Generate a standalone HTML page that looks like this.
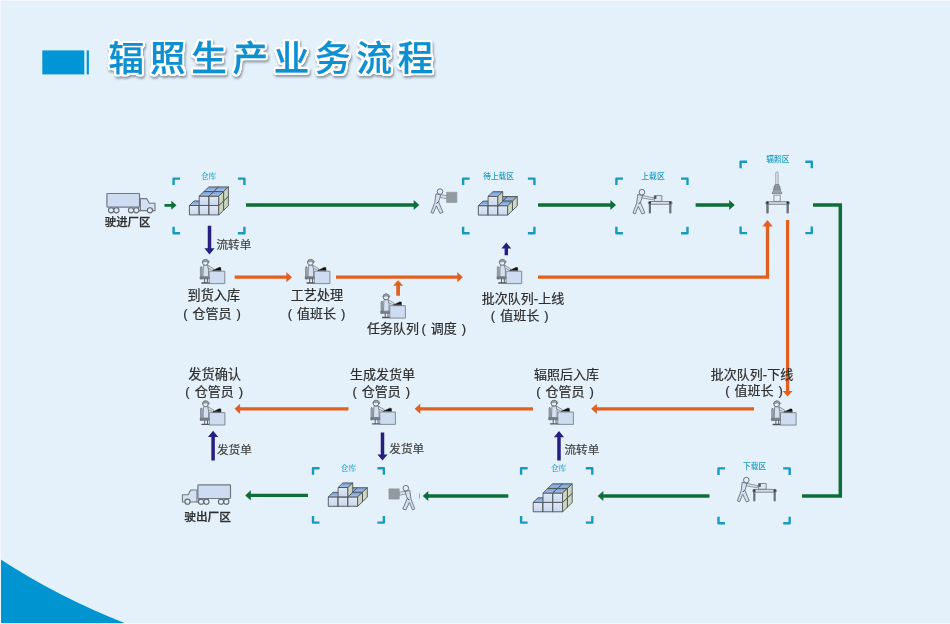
<!DOCTYPE html>
<html lang="zh-CN"><head><meta charset="utf-8"><title>辐照生产业务流程</title>
<style>
html,body{margin:0;padding:0;background:#e4f0fa;}
body{width:950px;height:624px;overflow:hidden;position:relative;}
svg{display:block;position:absolute;left:0;top:0;}
.t{font-family:"Liberation Sans","Noto Sans CJK SC",sans-serif;word-spacing:1.4px;}
.s{font-family:"Liberation Serif","Noto Serif CJK SC",serif;}
.title{font-family:"Liberation Sans","Noto Sans CJK SC",sans-serif;font-weight:500;letter-spacing:5.8px;stroke-linejoin:round;}
</style></head><body>
<svg width="950" height="624" viewBox="0 0 950 624">
<defs>
<linearGradient id="gf" x1="0" y1="0" x2="0" y2="1"><stop offset="0" stop-color="#dfe8f5"/><stop offset="1" stop-color="#c9d8ee"/></linearGradient>
<linearGradient id="gt" x1="0" y1="0" x2="0" y2="1"><stop offset="0" stop-color="#6f9bd6"/><stop offset="1" stop-color="#a9c6ea"/></linearGradient>
<linearGradient id="gs" x1="0" y1="0" x2="1" y2="0"><stop offset="0" stop-color="#d6dfc9"/><stop offset="1" stop-color="#c3d0b3"/></linearGradient>
<filter id="soft" filterUnits="userSpaceOnUse" x="0" y="0" width="950" height="624" color-interpolation-filters="sRGB"><feGaussianBlur stdDeviation="0.38"/></filter>
<filter id="ol" x="-5%" y="-25%" width="110%" height="160%" color-interpolation-filters="sRGB">
<feMorphology in="SourceAlpha" operator="dilate" radius="2.3" result="d"/>
<feGaussianBlur in="d" stdDeviation="0.9" result="b"/>
<feComponentTransfer in="b" result="o"><feFuncA type="linear" slope="6" intercept="-2.2"/></feComponentTransfer>
<feFlood flood-color="#ffffff" result="w"/><feComposite in="w" in2="o" operator="in" result="outline"/>
<feGaussianBlur in="o" stdDeviation="0.8" result="sb"/><feOffset in="sb" dx="1.4" dy="1.8" result="so"/>
<feFlood flood-color="#55636f" flood-opacity="0.6" result="sc"/><feComposite in="sc" in2="so" operator="in" result="shadow"/>
<feMerge><feMergeNode in="shadow"/><feMergeNode in="outline"/><feMergeNode in="SourceGraphic"/></feMerge>
</filter>

<symbol id="desk" overflow="visible">
<g stroke-linejoin="round" stroke-linecap="round">
<rect x="0.5" y="8.3" width="1.7" height="12" rx="0.6" fill="#a3aab2" stroke="#666d75" stroke-width="0.6"/>
<path d="M0.6,18.2H9.6V20.2H0.6Z" fill="#7c838b" stroke="#5c636b" stroke-width="0.6"/>
<path d="M4.7,20.2V23.8M7.5,20.2V23.8" stroke="#5c636b" stroke-width="1" fill="none"/>
<path d="M2,24.3H10" stroke="#4d545c" stroke-width="1.3" fill="none"/>
<path d="M3.4,7.2Q3.4,6.5 4.2,6.5H7.6Q8.6,6.5 8.6,7.4V18H3.4Z" fill="#d3e0f1" stroke="#6a7179" stroke-width="0.8"/>
<path d="M8.2,6.8L13.9,10.2L13.3,12L8.4,9.6Z" fill="#dbe5f3" stroke="#6a7179" stroke-width="0.7"/>
<circle cx="5.5" cy="3.7" r="2.9" fill="#e6eef8" stroke="#5c636b" stroke-width="0.9"/>
<path d="M2.7,3.2Q3,0.6 5.6,0.6Q8.4,0.7 9.6,3.2L9,3.6Q7,2.2 2.7,3.2Z" fill="#9aa1a9" stroke="#5c636b" stroke-width="0.5"/>
<rect x="9.7" y="12.5" width="15.2" height="12.4" fill="#cddcf0" stroke="#7a8189" stroke-width="0.9"/>
<path d="M13.4,11.6L19.2,8.7L20.8,8.9L21,11.6Z" fill="#111" stroke="#111" stroke-width="0.5"/>
</g></symbol>
<symbol id="truck" overflow="visible">
<g stroke-linejoin="round">
<path d="M40.4,13.6H46.7L49.3,18.3H55V25.6H40.4Z" fill="#d3e0f1" stroke="#717981" stroke-width="1.1"/>
<rect x="6.9" y="8.5" width="32.6" height="13.6" rx="0.8" fill="#cddcf0" stroke="#717981" stroke-width="1.2"/>
<path d="M38.5,22.1V25.6H41" fill="none" stroke="#717981" stroke-width="1.1"/>
<g fill="#e3ecf7" stroke="#626a72" stroke-width="1.1">
<circle cx="11.1" cy="25.3" r="2.6"/><circle cx="16.4" cy="25.3" r="2.6"/>
<circle cx="31" cy="25.3" r="2.6"/><circle cx="36.3" cy="25.3" r="2.6"/>
<circle cx="49.9" cy="25.3" r="2.6"/></g>
</g></symbol>
<symbol id="carrier" overflow="visible"><g stroke-linejoin="round">
<path d="M10.9,9.8L15.8,10.9L13.6,18L18,28.3L15,29.4L11.4,21.8L8.2,29.4L6,28.3L9.8,18.5Z" fill="#d3e0f1" stroke="#5c636b" stroke-width="0.8"/><path d="M11.6,19.5L13.4,17.6" stroke="#3c4248" stroke-width="1" fill="none"/>
<path d="M15.6,10.7L21.8,11.7V14.7L15.2,13.4Z" fill="#dbe5f3" stroke="#6a7179" stroke-width="0.7"/>
<circle cx="15" cy="7.6" r="2.8" fill="#e3ecf7" stroke="#5c636b" stroke-width="0.9"/>
<rect x="21.5" y="8.2" width="10.4" height="10.3" fill="#9299a1" stroke="#878e96" stroke-width="0.5"/>
</g></symbol>
<symbol id="tableman" overflow="visible"><g stroke-linejoin="round">
<g transform="translate(-1.1,0.6)"><path d="M10.9,9.8L15.8,10.9L13.6,18L18,28.3L15,29.4L11.4,21.8L8.2,29.4L6,28.3L9.8,18.5Z" fill="#d3e0f1" stroke="#5c636b" stroke-width="0.8"/><path d="M11.6,19.5L13.4,17.6" stroke="#3c4248" stroke-width="1" fill="none"/>
<path d="M15.6,10.9L26.5,13.2L26,15.2L15.2,13.4Z" fill="#dbe5f3" stroke="#6a7179" stroke-width="0.7"/>
<circle cx="15" cy="7.6" r="2.8" fill="#e3ecf7" stroke="#5c636b" stroke-width="0.9"/></g>
<rect x="26.2" y="11.6" width="7.6" height="5.8" fill="#dde7f4" stroke="#6a7179" stroke-width="0.8"/>
<rect x="26.2" y="11.9" width="2.2" height="3" fill="#4a5058"/>
<rect x="20.4" y="17.5" width="23.6" height="2.8" rx="1" fill="#d4dce5" stroke="#6a7179" stroke-width="0.8"/>
<rect x="20.8" y="18" width="2.2" height="11.5" rx="0.8" fill="#6a7179"/>
<rect x="41.2" y="18" width="2.2" height="11.5" rx="0.8" fill="#6a7179"/>
<rect x="20.8" y="17.6" width="2.2" height="2" rx="0.8" fill="#2a2e33"/>
<rect x="41.2" y="17.6" width="2.2" height="2" rx="0.8" fill="#2a2e33"/>
</g></symbol>
<symbol id="machine" overflow="visible"><g stroke-linejoin="round">
<rect x="55.8" y="27" width="2.3" height="13" rx="1" fill="#e8eef5" stroke="#7a8189" stroke-width="0.7"/>
<path d="M55,39.6H58.9L60.4,45.6L62,48.6H52L53.5,45.6Z" fill="#9aa1a9" stroke="#6a7179" stroke-width="0.7"/>
<path d="M53.2,42H60.8M52.8,44.2H61.2" stroke="#6a7179" stroke-width="0.6"/>
<rect x="53.9" y="50.2" width="6.4" height="6.2" fill="#e8eef5" stroke="#7a8189" stroke-width="0.8"/>
<rect x="45.8" y="56.7" width="23.6" height="2.6" rx="0.8" fill="#d4dce5" stroke="#6a7179" stroke-width="0.8"/>
<rect x="46.3" y="57" width="2.4" height="11.6" rx="0.8" fill="#6a7179"/>
<rect x="66.5" y="57" width="2.4" height="11.6" rx="0.8" fill="#6a7179"/>
<rect x="46.4" y="56.6" width="2.2" height="2.2" rx="0.8" fill="#2a2e33"/>
<rect x="66.6" y="56.6" width="2.2" height="2.2" rx="0.8" fill="#2a2e33"/>
</g></symbol>
</defs>
<rect width="950" height="624" fill="#e4f0fa"/>
<path d="M0,559Q58,597 127,624H0Z" fill="#0095d0"/>
<rect x="0" y="623" width="950" height="1" fill="#f6fafd"/>
<rect x="0" y="0" width="950" height="1" fill="#f1f7fc"/>
<rect x="0" y="0" width="1" height="624" fill="#f1f7fc"/>
<g filter="url(#soft)">
<rect x="42.3" y="50.4" width="42" height="24" fill="#0095d4"/>
<rect x="86.7" y="50.4" width="2.2" height="24" fill="#0095d4"/>
<text x="108.6" y="71.3" font-size="35.5" fill="#0d90d2" stroke="#0d90d2" stroke-width="0.25" class="title" filter="url(#ol)">辐照生产业务流程</text>
<use href="#truck" x="100" y="185"/>
<text x="127.6" y="226.2" font-size="11.4" fill="#2e2e2e" text-anchor="middle" class="t" font-weight="500" stroke="#2e2e2e" stroke-width="0.25">驶进厂区</text>
<path d="M164.5,203.9H171.3V200.8L176.5,205.3L171.3,209.8V206.70000000000002H164.5Z" fill="#0f6e38"/>
<path d="M180.1,178.6H173.6V185.1M237.9,178.6H244.4V185.1M180.1,233.20000000000002H173.6V226.70000000000002M237.9,233.20000000000002H244.4V226.70000000000002" fill="none" stroke="#189abf" stroke-width="2.4" stroke-linejoin="round"/>
<text x="208.6" y="178.8" font-size="7.6" fill="#189abf" text-anchor="middle" class="s"  font-weight="500">仓库</text>
<g stroke="#4d5258" stroke-width="0.9" stroke-linejoin="round"><rect x="204.00" y="200.90" width="9.8" height="9.4" fill="url(#gf)"/><path d="M204.00,200.90l4.8,-4.6h9.8l-4.8,4.6z" fill="url(#gt)"/><path d="M213.80,200.90l4.8,-4.6v9.4l-4.8,4.6z" fill="url(#gs)"/><rect x="213.80" y="200.90" width="9.8" height="9.4" fill="url(#gf)"/><path d="M213.80,200.90l4.8,-4.6h9.8l-4.8,4.6z" fill="url(#gt)"/><path d="M223.60,200.90l4.8,-4.6v9.4l-4.8,4.6z" fill="url(#gs)"/><rect x="204.00" y="191.50" width="9.8" height="9.4" fill="url(#gf)"/><path d="M204.00,191.50l4.8,-4.6h9.8l-4.8,4.6z" fill="url(#gt)"/><path d="M213.80,191.50l4.8,-4.6v9.4l-4.8,4.6z" fill="url(#gs)"/><rect x="213.80" y="191.50" width="9.8" height="9.4" fill="url(#gf)"/><path d="M213.80,191.50l4.8,-4.6h9.8l-4.8,4.6z" fill="url(#gt)"/><path d="M223.60,191.50l4.8,-4.6v9.4l-4.8,4.6z" fill="url(#gs)"/><rect x="189.40" y="205.50" width="9.8" height="9.4" fill="url(#gf)"/><path d="M189.40,205.50l4.8,-4.6h9.8l-4.8,4.6z" fill="url(#gt)"/><path d="M199.20,205.50l4.8,-4.6v9.4l-4.8,4.6z" fill="url(#gs)"/><rect x="199.20" y="205.50" width="9.8" height="9.4" fill="url(#gf)"/><path d="M199.20,205.50l4.8,-4.6h9.8l-4.8,4.6z" fill="url(#gt)"/><path d="M209.00,205.50l4.8,-4.6v9.4l-4.8,4.6z" fill="url(#gs)"/><rect x="209.00" y="205.50" width="9.8" height="9.4" fill="url(#gf)"/><path d="M209.00,205.50l4.8,-4.6h9.8l-4.8,4.6z" fill="url(#gt)"/><path d="M218.80,205.50l4.8,-4.6v9.4l-4.8,4.6z" fill="url(#gs)"/><rect x="199.20" y="196.10" width="9.8" height="9.4" fill="url(#gf)"/><path d="M199.20,196.10l4.8,-4.6h9.8l-4.8,4.6z" fill="url(#gt)"/><path d="M209.00,196.10l4.8,-4.6v9.4l-4.8,4.6z" fill="url(#gs)"/><rect x="209.00" y="196.10" width="9.8" height="9.4" fill="url(#gf)"/><path d="M209.00,196.10l4.8,-4.6h9.8l-4.8,4.6z" fill="url(#gt)"/><path d="M218.80,196.10l4.8,-4.6v9.4l-4.8,4.6z" fill="url(#gs)"/></g>
<path d="M246,203.35H413.7V199.9L419.3,205L413.7,210.1V206.65H246Z" fill="#0f6e38"/>
<use href="#carrier" x="425" y="184"/>
<path d="M469.59999999999997,178.6H463.09999999999997V185.1M527.9,178.6H534.4V185.1M469.59999999999997,233.20000000000002H463.09999999999997V226.70000000000002M527.9,233.20000000000002H534.4V226.70000000000002" fill="none" stroke="#189abf" stroke-width="2.4" stroke-linejoin="round"/>
<text x="498.6" y="178.8" font-size="7.7" fill="#189abf" text-anchor="middle" class="t"  font-weight="500">待上载区</text>
<g stroke="#4d5258" stroke-width="0.9" stroke-linejoin="round"><rect x="492.90" y="201.10" width="9.8" height="9.4" fill="url(#gf)"/><path d="M492.90,201.10l4.8,-4.6h9.8l-4.8,4.6z" fill="url(#gt)"/><path d="M502.70,201.10l4.8,-4.6v9.4l-4.8,4.6z" fill="url(#gs)"/><rect x="502.70" y="201.10" width="9.8" height="9.4" fill="url(#gf)"/><path d="M502.70,201.10l4.8,-4.6h9.8l-4.8,4.6z" fill="url(#gt)"/><path d="M512.50,201.10l4.8,-4.6v9.4l-4.8,4.6z" fill="url(#gs)"/><rect x="478.30" y="205.70" width="9.8" height="9.4" fill="url(#gf)"/><path d="M478.30,205.70l4.8,-4.6h9.8l-4.8,4.6z" fill="url(#gt)"/><path d="M488.10,205.70l4.8,-4.6v9.4l-4.8,4.6z" fill="url(#gs)"/><rect x="488.10" y="205.70" width="9.8" height="9.4" fill="url(#gf)"/><path d="M488.10,205.70l4.8,-4.6h9.8l-4.8,4.6z" fill="url(#gt)"/><path d="M497.90,205.70l4.8,-4.6v9.4l-4.8,4.6z" fill="url(#gs)"/><rect x="497.90" y="205.70" width="9.8" height="9.4" fill="url(#gf)"/><path d="M497.90,205.70l4.8,-4.6h9.8l-4.8,4.6z" fill="url(#gt)"/><path d="M507.70,205.70l4.8,-4.6v9.4l-4.8,4.6z" fill="url(#gs)"/><rect x="488.10" y="196.30" width="9.8" height="9.4" fill="url(#gf)"/><path d="M488.10,196.30l4.8,-4.6h9.8l-4.8,4.6z" fill="url(#gt)"/><path d="M497.90,196.30l4.8,-4.6v9.4l-4.8,4.6z" fill="url(#gs)"/></g>
<path d="M538,203.35H610.4V199.9L616,205L610.4,210.1V206.65H538Z" fill="#0f6e38"/>
<path d="M622.9000000000001,178.6H616.4000000000001V185.1M681.0,178.6H687.5V185.1M622.9000000000001,233.20000000000002H616.4000000000001V226.70000000000002M681.0,233.20000000000002H687.5V226.70000000000002" fill="none" stroke="#189abf" stroke-width="2.4" stroke-linejoin="round"/>
<text x="653" y="178.8" font-size="7.8" fill="#189abf" text-anchor="middle" class="t"  font-weight="500">上载区</text>
<use href="#tableman" x="628" y="184"/>
<path d="M695.6,203.35H729.1999999999999V199.9L734.8,205L729.1999999999999,210.1V206.65H695.6Z" fill="#0f6e38"/>
<path d="M747.1,161.79999999999998H740.6V168.29999999999998M805.3,161.79999999999998H811.8V168.29999999999998M747.1,233.10000000000002H740.6V226.60000000000002M805.3,233.10000000000002H811.8V226.60000000000002" fill="none" stroke="#189abf" stroke-width="2.4" stroke-linejoin="round"/>
<text x="777.8" y="162.2" font-size="7.7" fill="#189abf" text-anchor="middle" class="t"  font-weight="500">辐照区</text>
<use href="#machine" x="720" y="145"/>
<path d="M813,205H840.3V496H802" fill="none" stroke="#0f6e38" stroke-width="3.5"/>
<path d="M207.75,225.8V248.3H204.4L209.5,254.5L214.6,248.3H211.25V225.8Z" fill="#261f80"/>
<text x="216.5" y="249" font-size="11.6" fill="#444" text-anchor="start" class="t"  stroke="#444" stroke-width="0.22">流转单</text>
<use href="#desk" x="199.9" y="258.7"/>
<text x="213.8" y="300.1" font-size="13.1" fill="#2e2e2e" text-anchor="middle" class="t"  stroke="#2e2e2e" stroke-width="0.22">到货入库</text>
<text x="212" y="317.9" font-size="13" fill="#2e2e2e" text-anchor="middle" class="t"  stroke="#2e2e2e" stroke-width="0.22">( 仓管员 )</text>
<path d="M234.7,275.55H286.4V272.09999999999997L292,277.2L286.4,282.3V278.84999999999997H234.7Z" fill="#e2601f"/>
<use href="#desk" x="305" y="258.7"/>
<text x="316.9" y="300.1" font-size="13.1" fill="#2e2e2e" text-anchor="middle" class="t"  stroke="#2e2e2e" stroke-width="0.22">工艺处理</text>
<text x="316.5" y="317.9" font-size="13" fill="#2e2e2e" text-anchor="middle" class="t"  stroke="#2e2e2e" stroke-width="0.22">( 值班长 )</text>
<path d="M336,275.55H457.29999999999995V272.09999999999997L462.9,277.2L457.29999999999995,282.3V278.84999999999997H336Z" fill="#e2601f"/>
<path d="M396.25,295.8V285.8H393.1L398.1,280.2L403.1,285.8H399.95000000000005V295.8Z" fill="#e2601f"/>
<use href="#desk" x="380.5" y="293.2"/>
<text x="416.6" y="332.5" font-size="13" fill="#2e2e2e" text-anchor="middle" class="t"  stroke="#2e2e2e" stroke-width="0.22">任务队列 <tspan dx="-2.6">( 调度 )</tspan></text>
<path d="M504.6,255.2V248.4H501.40000000000003L506.3,242.4L511.2,248.4H508.0V255.2Z" fill="#261f80"/>
<use href="#desk" x="496.8" y="258.7"/>
<text x="523" y="302.7" font-size="13" fill="#2e2e2e" text-anchor="middle" class="t"  stroke="#2e2e2e" stroke-width="0.22">批次队列-上线</text>
<text x="519.7" y="320.2" font-size="13" fill="#2e2e2e" text-anchor="middle" class="t"  stroke="#2e2e2e" stroke-width="0.22">( 值班长 )</text>
<path d="M538,277.2H767.5V226" fill="none" stroke="#e2601f" stroke-width="3.3"/>
<path d="M762.3,226.5L767.5,220L772.7,226.5Z" fill="#e2601f"/>
<path d="M785.95,220V391.0H782.7L787.6,396.5L792.5,391.0H789.25V220Z" fill="#e2601f"/>
<text x="752" y="378.5" font-size="13" fill="#2e2e2e" text-anchor="middle" class="t"  stroke="#2e2e2e" stroke-width="0.22">批次队列-下线</text>
<text x="754" y="395.2" font-size="13" fill="#2e2e2e" text-anchor="middle" class="t"  stroke="#2e2e2e" stroke-width="0.22">( 值班长 )</text>
<use href="#desk" x="771.2" y="400.2"/>
<path d="M754,407.15000000000003H596.8000000000001V403.7L591.2,408.8L596.8000000000001,413.90000000000003V410.45H754Z" fill="#e2601f"/>
<text x="566.5" y="378.5" font-size="13" fill="#2e2e2e" text-anchor="middle" class="t"  stroke="#2e2e2e" stroke-width="0.22">辐照后入库</text>
<text x="565" y="395.8" font-size="13" fill="#2e2e2e" text-anchor="middle" class="t"  stroke="#2e2e2e" stroke-width="0.22">( 仓管员 )</text>
<use href="#desk" x="548.5" y="399.5"/>
<path d="M533,407.15000000000003H420.3V403.7L414.7,408.8L420.3,413.90000000000003V410.45H533Z" fill="#e2601f"/>
<text x="382.5" y="378.5" font-size="13" fill="#2e2e2e" text-anchor="middle" class="t"  stroke="#2e2e2e" stroke-width="0.22">生成发货单</text>
<text x="381.3" y="395.8" font-size="13" fill="#2e2e2e" text-anchor="middle" class="t"  stroke="#2e2e2e" stroke-width="0.22">( 仓管员 )</text>
<use href="#desk" x="370.5" y="399.5"/>
<path d="M348.5,407.15000000000003H240.1V403.7L234.5,408.8L240.1,413.90000000000003V410.45H348.5Z" fill="#e2601f"/>
<text x="214.7" y="378.6" font-size="13.2" fill="#2e2e2e" text-anchor="middle" class="t"  stroke="#2e2e2e" stroke-width="0.22">发货确认</text>
<text x="214.2" y="395.8" font-size="13" fill="#2e2e2e" text-anchor="middle" class="t"  stroke="#2e2e2e" stroke-width="0.22">( 仓管员 )</text>
<use href="#desk" x="200" y="400.1"/>
<path d="M211.35,460.6V437.0H208.0L213.1,430.8L218.2,437.0H214.85V460.6Z" fill="#261f80"/>
<text x="217" y="453.8" font-size="11.6" fill="#444" text-anchor="start" class="t"  stroke="#444" stroke-width="0.22">发货单</text>
<path d="M380.75,432.5V454.40000000000003H377.4L382.5,460.6L387.6,454.40000000000003H384.25V432.5Z" fill="#261f80"/>
<text x="389.3" y="453.3" font-size="11.6" fill="#444" text-anchor="start" class="t"  stroke="#444" stroke-width="0.22">发货单</text>
<path d="M557.25,460.6V437.2H553.9L559,431L564.1,437.2H560.75V460.6Z" fill="#261f80"/>
<text x="564.5" y="453.6" font-size="11.6" fill="#444" text-anchor="start" class="t"  stroke="#444" stroke-width="0.22">流转单</text>
<path d="M725.0,468.4H718.5V474.9M783.1999999999999,468.4H789.6999999999999V474.9M725.0,523.1999999999999H718.5V516.6999999999999M783.1999999999999,523.1999999999999H789.6999999999999V516.6999999999999" fill="none" stroke="#189abf" stroke-width="2.4" stroke-linejoin="round"/>
<text x="754.6" y="468.8" font-size="7.7" fill="#189abf" text-anchor="middle" class="t"  font-weight="500">下载区</text>
<use href="#tableman" x="732.4" y="471.9"/>
<path d="M709.5,494.35H603.3000000000001V490.9L597.7,496L603.3000000000001,501.1V497.65H709.5Z" fill="#0f6e38"/>
<path d="M527.6,468.2H521.1V474.7M585.8,468.2H592.3V474.7M527.6,522.5999999999999H521.1V516.0999999999999M585.8,522.5999999999999H592.3V516.0999999999999" fill="none" stroke="#189abf" stroke-width="2.4" stroke-linejoin="round"/>
<text x="558.5" y="470.8" font-size="7.6" fill="#189abf" text-anchor="middle" class="s"  font-weight="500">仓库</text>
<g stroke="#4d5258" stroke-width="0.9" stroke-linejoin="round"><rect x="547.80" y="497.80" width="9.8" height="9.4" fill="url(#gf)"/><path d="M547.80,497.80l4.8,-4.6h9.8l-4.8,4.6z" fill="url(#gt)"/><path d="M557.60,497.80l4.8,-4.6v9.4l-4.8,4.6z" fill="url(#gs)"/><rect x="557.60" y="497.80" width="9.8" height="9.4" fill="url(#gf)"/><path d="M557.60,497.80l4.8,-4.6h9.8l-4.8,4.6z" fill="url(#gt)"/><path d="M567.40,497.80l4.8,-4.6v9.4l-4.8,4.6z" fill="url(#gs)"/><rect x="547.80" y="488.40" width="9.8" height="9.4" fill="url(#gf)"/><path d="M547.80,488.40l4.8,-4.6h9.8l-4.8,4.6z" fill="url(#gt)"/><path d="M557.60,488.40l4.8,-4.6v9.4l-4.8,4.6z" fill="url(#gs)"/><rect x="557.60" y="488.40" width="9.8" height="9.4" fill="url(#gf)"/><path d="M557.60,488.40l4.8,-4.6h9.8l-4.8,4.6z" fill="url(#gt)"/><path d="M567.40,488.40l4.8,-4.6v9.4l-4.8,4.6z" fill="url(#gs)"/><rect x="533.20" y="502.40" width="9.8" height="9.4" fill="url(#gf)"/><path d="M533.20,502.40l4.8,-4.6h9.8l-4.8,4.6z" fill="url(#gt)"/><path d="M543.00,502.40l4.8,-4.6v9.4l-4.8,4.6z" fill="url(#gs)"/><rect x="543.00" y="502.40" width="9.8" height="9.4" fill="url(#gf)"/><path d="M543.00,502.40l4.8,-4.6h9.8l-4.8,4.6z" fill="url(#gt)"/><path d="M552.80,502.40l4.8,-4.6v9.4l-4.8,4.6z" fill="url(#gs)"/><rect x="552.80" y="502.40" width="9.8" height="9.4" fill="url(#gf)"/><path d="M552.80,502.40l4.8,-4.6h9.8l-4.8,4.6z" fill="url(#gt)"/><path d="M562.60,502.40l4.8,-4.6v9.4l-4.8,4.6z" fill="url(#gs)"/><rect x="543.00" y="493.00" width="9.8" height="9.4" fill="url(#gf)"/><path d="M543.00,493.00l4.8,-4.6h9.8l-4.8,4.6z" fill="url(#gt)"/><path d="M552.80,493.00l4.8,-4.6v9.4l-4.8,4.6z" fill="url(#gs)"/><rect x="552.80" y="493.00" width="9.8" height="9.4" fill="url(#gf)"/><path d="M552.80,493.00l4.8,-4.6h9.8l-4.8,4.6z" fill="url(#gt)"/><path d="M562.60,493.00l4.8,-4.6v9.4l-4.8,4.6z" fill="url(#gs)"/></g>
<path d="M508.3,494.35H428.3V490.9L422.7,496L428.3,501.1V497.65H508.3Z" fill="#0f6e38"/>
<rect x="419" y="493.5" width="0.8" height="5" fill="#0f6e38" opacity="0.6"/>
<use href="#carrier" transform="translate(420.8,480.6) scale(-1,1)"/>
<path d="M319.5,468.2H313.0V474.7M377.40000000000003,468.2H383.90000000000003V474.7M319.5,522.5999999999999H313.0V516.0999999999999M377.40000000000003,522.5999999999999H383.90000000000003V516.0999999999999" fill="none" stroke="#189abf" stroke-width="2.4" stroke-linejoin="round"/>
<text x="348.4" y="470.8" font-size="7.6" fill="#189abf" text-anchor="middle" class="s"  font-weight="500">仓库</text>
<g stroke="#4d5258" stroke-width="0.9" stroke-linejoin="round"><rect x="342.90" y="492.30" width="9.8" height="9.4" fill="url(#gf)"/><path d="M342.90,492.30l4.8,-4.6h9.8l-4.8,4.6z" fill="url(#gt)"/><path d="M352.70,492.30l4.8,-4.6v9.4l-4.8,4.6z" fill="url(#gs)"/><rect x="352.70" y="492.30" width="9.8" height="9.4" fill="url(#gf)"/><path d="M352.70,492.30l4.8,-4.6h9.8l-4.8,4.6z" fill="url(#gt)"/><path d="M362.50,492.30l4.8,-4.6v9.4l-4.8,4.6z" fill="url(#gs)"/><rect x="328.30" y="496.90" width="9.8" height="9.4" fill="url(#gf)"/><path d="M328.30,496.90l4.8,-4.6h9.8l-4.8,4.6z" fill="url(#gt)"/><path d="M338.10,496.90l4.8,-4.6v9.4l-4.8,4.6z" fill="url(#gs)"/><rect x="338.10" y="496.90" width="9.8" height="9.4" fill="url(#gf)"/><path d="M338.10,496.90l4.8,-4.6h9.8l-4.8,4.6z" fill="url(#gt)"/><path d="M347.90,496.90l4.8,-4.6v9.4l-4.8,4.6z" fill="url(#gs)"/><rect x="347.90" y="496.90" width="9.8" height="9.4" fill="url(#gf)"/><path d="M347.90,496.90l4.8,-4.6h9.8l-4.8,4.6z" fill="url(#gt)"/><path d="M357.70,496.90l4.8,-4.6v9.4l-4.8,4.6z" fill="url(#gs)"/><rect x="338.10" y="487.50" width="9.8" height="9.4" fill="url(#gf)"/><path d="M338.10,487.50l4.8,-4.6h9.8l-4.8,4.6z" fill="url(#gt)"/><path d="M347.90,487.50l4.8,-4.6v9.4l-4.8,4.6z" fill="url(#gs)"/></g>
<path d="M308,493.75H250.79999999999998V490.29999999999995L245.2,495.4L250.79999999999998,500.5V497.04999999999995H308Z" fill="#0f6e38"/>
<use href="#truck" transform="translate(237.4,476.4) scale(-1,1)"/>
<text x="207.6" y="520.8" font-size="11.7" fill="#2e2e2e" text-anchor="middle" class="t" font-weight="500" stroke="#2e2e2e" stroke-width="0.25">驶出厂区</text>
</g>
</svg></body></html>
